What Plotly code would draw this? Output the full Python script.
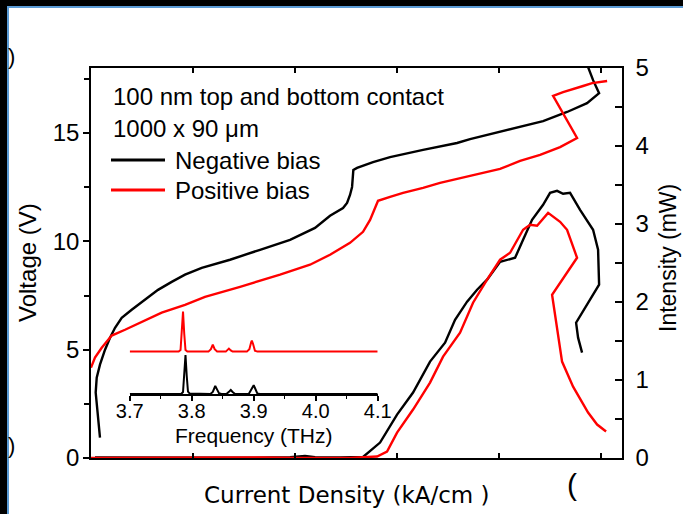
import plotly.graph_objects as go

# ---- I-V curves: current density (kA/cm^2) vs voltage (V) ----
j_neg_v = [0.0176, 0.0131, 0.0092, 0.0112, 0.0176, 0.0275, 0.0373, 0.0471, 0.0602, 0.0798,
           0.1059, 0.1314, 0.1582, 0.1843, 0.2171, 0.2725, 0.3314, 0.3902, 0.4392, 0.4686,
           0.4941, 0.5020, 0.5078, 0.5118, 0.5143, 0.5216, 0.5529, 0.5863, 0.6510, 0.7176,
           0.7431, 0.8020, 0.8412, 0.8863, 0.9333, 0.9725, 0.9961, 0.9843, 0.9745, 0.9700]
v_neg = [0.94, 1.91, 3.02, 3.71, 4.31, 5.00, 5.55, 6.01, 6.47, 6.84,
         7.30, 7.76, 8.13, 8.46, 8.78, 9.15, 9.61, 10.07, 10.62, 11.18,
         11.54, 11.77, 12.14, 12.51, 13.29, 13.39, 13.66, 13.89, 14.22, 14.54,
         14.72, 15.05, 15.28, 15.55, 15.97, 16.38, 16.84, 17.44, 18.04, 18.30]

j_pos_v = [0.0, 0.0078, 0.0210, 0.0406, 0.0667, 0.0994, 0.1386, 0.1843, 0.2235, 0.2922,
           0.3706, 0.4294, 0.4686, 0.5078, 0.5333, 0.5471, 0.5627, 0.5863, 0.6118, 0.6510,
           0.6843, 0.7431, 0.8020, 0.8412, 0.8804, 0.9196, 0.9529, 0.9059, 0.9255, 0.9647,
           0.9824, 1.0118]
v_pos = [4.17, 4.63, 5.09, 5.65, 5.92, 6.29, 6.71, 7.07, 7.44, 7.90,
         8.46, 8.92, 9.38, 9.93, 10.44, 10.99, 11.87, 12.05, 12.24, 12.47,
         12.70, 13.02, 13.34, 13.71, 13.99, 14.35, 14.77, 16.71, 16.89, 17.17,
         17.30, 17.40]

# ---- L-J curves: current density vs optical output (mW) ----
j_neg_l = [0.0078, 0.1157, 0.2137, 0.3118, 0.3902, 0.4196, 0.4392, 0.4882, 0.5333, 0.5667,
           0.6000, 0.6314, 0.6647, 0.6941, 0.7137, 0.7373, 0.7569, 0.7765, 0.8020, 0.8314,
           0.8471, 0.8647, 0.8863, 0.9000, 0.9137, 0.9255, 0.9392, 0.9588, 0.9843, 0.9941,
           0.9961, 0.9510, 0.9549, 0.9627]
p_neg = [0.006, 0.003, 0.004, 0.003, 0.009, 0.026, 0.010, 0.006, 0.013, 0.198,
         0.557, 0.839, 1.236, 1.479, 1.773, 2.004, 2.157, 2.286, 2.516, 2.567,
         2.798, 3.054, 3.246, 3.399, 3.425, 3.387, 3.399, 3.182, 2.926, 2.670,
         2.222, 1.735, 1.543, 1.351]

j_pos_l = [0.0, 0.1157, 0.2137, 0.3314, 0.4098, 0.5078, 0.5608, 0.5804, 0.6000, 0.6314,
           0.6647, 0.6902, 0.7235, 0.7490, 0.7765, 0.8020, 0.8216, 0.8471, 0.8608, 0.8745,
           0.8961, 0.9196, 0.9333, 0.9529, 0.9039, 0.9235, 0.9451, 0.9745, 0.9922, 1.0098]
p_pos = [0.0, 0.004, 0.001, 0.006, 0.0, 0.001, 0.019, 0.083, 0.326, 0.621,
         0.967, 1.300, 1.607, 1.991, 2.286, 2.542, 2.631, 2.926, 2.990, 2.977,
         3.143, 3.028, 2.926, 2.567, 2.093, 1.236, 0.915, 0.583, 0.429, 0.339]

# ---- inset: emission spectra (arb. units, positive bias offset upward) ----
f_neg = [3.700, 3.783, 3.786, 3.788, 3.790, 3.792, 3.794, 3.797, 3.830, 3.834,
         3.837, 3.838, 3.840, 3.844, 3.848, 3.856, 3.861, 3.863, 3.866, 3.870,
         3.892, 3.897, 3.900, 3.902, 3.906, 3.910, 4.100]
s_neg = [0.0, 0.0, 0.05, 0.45, 0.975, 0.45, 0.06, 0.01, 0.0, 0.05,
         0.18, 0.20, 0.14, 0.02, 0.0, 0.0, 0.07, 0.10, 0.05, 0.0,
         0.0, 0.12, 0.22, 0.15, 0.01, 0.0, 0.0]

f_pos = [3.700, 3.779, 3.782, 3.784, 3.786, 3.788, 3.790, 3.793, 3.827, 3.831,
         3.834, 3.837, 3.841, 3.855, 3.858, 3.860, 3.863, 3.866, 3.889, 3.893,
         3.896, 3.897, 3.899, 3.902, 3.906, 4.100]
s_pos = [1.06, 1.06, 1.10, 1.50, 2.06, 1.50, 1.10, 1.06, 1.06, 1.12,
         1.235, 1.12, 1.065, 1.06, 1.10, 1.135, 1.09, 1.06, 1.06, 1.12,
         1.30, 1.335, 1.25, 1.08, 1.06, 1.06]

freq_ticks = [3.7, 3.8, 3.9, 4.0, 4.1]

BLACK = "#000000"
RED = "#ff0000"
ARIAL = "Liberation Sans, Arial, sans-serif"

W, H = 683, 514
ML, MR, MT, MB = 91, 61, 68, 56
PW, PH = W - ML - MR, H - MT - MB


def px_x(px):
    return (px - ML) / PW


def px_y(py):
    return (H - MB - py) / PH


fig = go.Figure()

fig.add_trace(go.Scatter(x=j_neg_v, y=v_neg, mode="lines", line=dict(color=BLACK, width=2.4),
                         xaxis="x", yaxis="y"))
fig.add_trace(go.Scatter(x=j_neg_l, y=p_neg, mode="lines", line=dict(color=BLACK, width=2.4),
                         xaxis="x", yaxis="y2"))
fig.add_trace(go.Scatter(x=j_pos_v, y=v_pos, mode="lines", line=dict(color=RED, width=2.4),
                         xaxis="x", yaxis="y"))
fig.add_trace(go.Scatter(x=j_pos_l, y=p_pos, mode="lines", line=dict(color=RED, width=2.4),
                         xaxis="x", yaxis="y2"))

fig.add_trace(go.Scatter(x=f_pos, y=s_pos, mode="lines", line=dict(color=RED, width=2),
                         xaxis="x3", yaxis="y3", cliponaxis=False))
fig.add_trace(go.Scatter(x=f_neg, y=s_neg, mode="lines", line=dict(color=BLACK, width=2),
                         xaxis="x3", yaxis="y3", cliponaxis=False))

axis_common = dict(showgrid=False, zeroline=False, showline=True, linecolor=BLACK,
                   linewidth=1.5, tickcolor=BLACK, tickwidth=1.5)

fig.update_layout(
    width=W, height=H,
    margin=dict(l=ML, r=MR, t=MT, b=MB, pad=0),
    paper_bgcolor="white", plot_bgcolor="rgba(0,0,0,0)",
    showlegend=False,
    font=dict(family=ARIAL, color=BLACK, size=24),
    xaxis=dict(**axis_common, domain=[0, 1], range=[0, 1.041], tick0=0, dtick=0.2,
               ticks="inside", ticklen=5, mirror="ticks", showticklabels=False, anchor="y"),
    xaxis4=dict(showgrid=False, zeroline=False, showline=False, overlaying="x",
                range=[0, 1.041], tick0=0, dtick=0.2, ticks="outside", ticklen=5,
                tickwidth=1.5, tickcolor=BLACK, showticklabels=False, anchor="y"),
    yaxis=dict(**axis_common, range=[0, 18], tick0=0, dtick=5, ticks="outside", ticklen=6,
               minor=dict(dtick=2.5, ticks="outside", ticklen=5, tickwidth=1.5, tickcolor=BLACK),
               tickfont=dict(size=24, family=ARIAL), ticklabelstandoff=-1),
    yaxis2=dict(**axis_common, overlaying="y", side="right", range=[0, 5], tick0=0, dtick=1,
                ticks="inside", ticklen=7,
                minor=dict(dtick=0.5, ticks="inside", ticklen=7, tickwidth=1.5, tickcolor=BLACK),
                tickfont=dict(size=24, family=ARIAL), ticklabelstandoff=7, anchor="x"),
    xaxis3=dict(**axis_common, domain=[px_x(129.7), px_x(377.7)], anchor="y3",
                range=[3.7, 4.1], tickvals=freq_ticks, tickformat=".1f",
                ticks="outside", ticklen=5,
                minor=dict(dtick=0.05, ticks="outside", ticklen=3, tickwidth=1.2, tickcolor=BLACK),
                tickfont=dict(size=20, family=ARIAL), ticklabelstandoff=-7),
    yaxis3=dict(domain=[px_y(394), px_y(306)], anchor="x3", range=[0, 2.2], visible=False),
)

annotations = [
    dict(text="100 nm top and bottom contact", x=px_x(111), y=px_y(97), xanchor="left",
         yanchor="middle", font=dict(size=24)),
    dict(text="1000 x 90 μm", x=px_x(111), y=px_y(128), xanchor="left",
         yanchor="middle", font=dict(size=24)),
    dict(text="Negative bias", x=px_x(173), y=px_y(160), xanchor="left",
         yanchor="middle", font=dict(size=24)),
    dict(text="Positive bias", x=px_x(173), y=px_y(190), xanchor="left",
         yanchor="middle", font=dict(size=24)),
    dict(text="Frequency (THz)", x=px_x(254), y=px_y(435), xanchor="center",
         yanchor="middle", font=dict(size=21)),
    dict(text="Voltage (V)", x=px_x(27), y=px_y(263), textangle=-90, xanchor="center",
         yanchor="middle", font=dict(size=24)),
    dict(text="Intensity (mW)", x=px_x(668), y=px_y(258), textangle=-90, xanchor="center",
         yanchor="middle", font=dict(size=23)),
    dict(text="Current Density (kA/cm )", x=px_x(347), y=px_y(495), xanchor="center",
         yanchor="middle", font=dict(size=23, family="DejaVu Sans")),
    dict(text=")", x=px_x(11), y=px_y(56), xanchor="center", yanchor="middle",
         font=dict(size=22)),
    dict(text=")", x=px_x(11), y=px_y(445), xanchor="center", yanchor="middle",
         font=dict(size=22)),
    dict(text="(", x=px_x(572), y=px_y(484), xanchor="center", yanchor="middle",
         font=dict(size=30)),
]
for a in annotations:
    a.update(xref="paper", yref="paper", showarrow=False)
fig.update_layout(annotations=annotations)

shapes = [
    # legend line samples
    dict(type="line", x0=px_x(111), x1=px_x(165), y0=px_y(160), y1=px_y(160),
         line=dict(color=BLACK, width=3)),
    dict(type="line", x0=px_x(111), x1=px_x(165), y0=px_y(190), y1=px_y(190),
         line=dict(color=RED, width=3)),
    # page frame: dark band with a blue rule along the top and left edges
    dict(type="rect", x0=px_x(0), x1=px_x(W), y0=px_y(0), y1=px_y(6),
         fillcolor=BLACK, line=dict(width=0)),
    dict(type="rect", x0=px_x(0), x1=px_x(7), y0=px_y(0), y1=px_y(H),
         fillcolor=BLACK, line=dict(width=0)),
    dict(type="rect", x0=px_x(7), x1=px_x(W), y0=px_y(6), y1=px_y(8),
         fillcolor="#5b9bd5", line=dict(width=0)),
    dict(type="rect", x0=px_x(7), x1=px_x(9), y0=px_y(6), y1=px_y(H),
         fillcolor="#5b9bd5", line=dict(width=0)),
]
for s in shapes:
    s.update(xref="paper", yref="paper")
fig.update_layout(shapes=shapes)

fig.write_html("out.html")
